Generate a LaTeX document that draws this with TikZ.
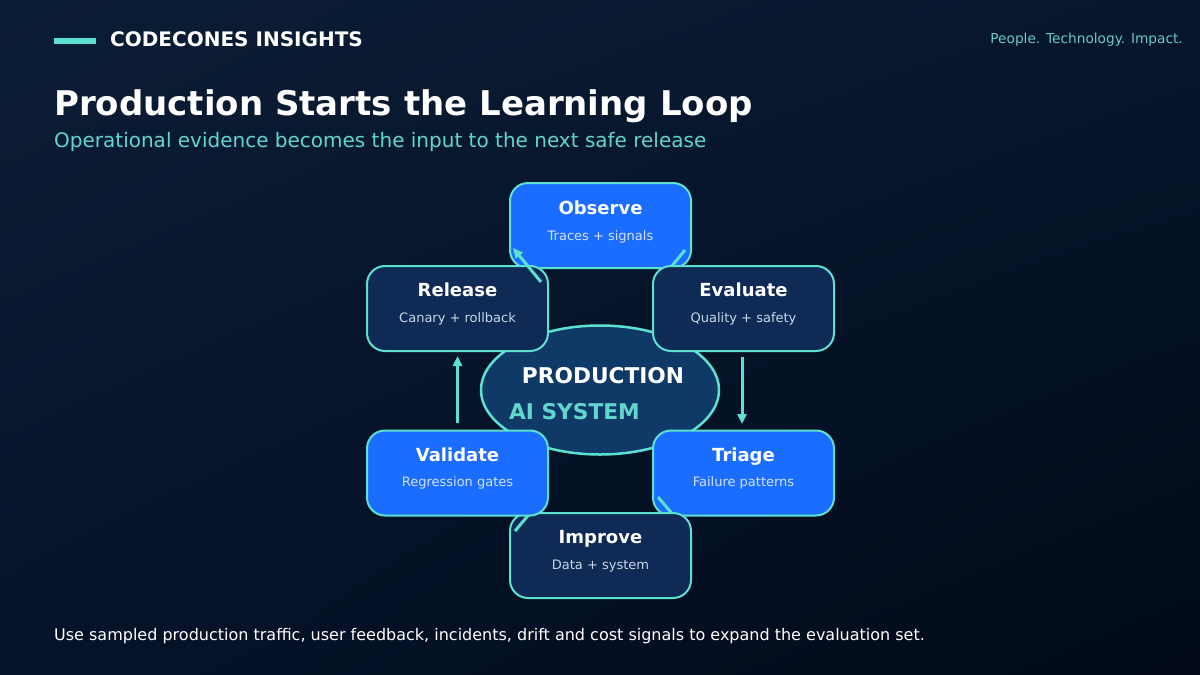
\documentclass[tikz,border=0pt]{standalone}
\usepackage{fontspec}
\setmainfont{DejaVu Sans}
\usetikzlibrary{arrows.meta,shapes.geometric,calc,shadings}
\definecolor{bgUL}{HTML}{0B1D35}
\definecolor{bgUR}{HTML}{06162D}
\definecolor{bgLL}{HTML}{05132A}
\definecolor{bgLR}{HTML}{020A18}
\definecolor{teal}{HTML}{5EE0D0}
\definecolor{tealtext}{HTML}{62D6CC}
\definecolor{tagtext}{HTML}{6CC8C8}
\definecolor{bluebox}{HTML}{1A6DFF}
\definecolor{darkbox}{HTML}{0F2B55}
\definecolor{ellfill}{HTML}{0F3A68}
\definecolor{subblue}{HTML}{D2E2FF}
\definecolor{subdark}{HTML}{C8D6E8}
\tikzset{
  stagebox/.style={draw=teal, line width=2pt, rounded corners=18pt, minimum width=181pt, minimum height=85pt, inner sep=0pt},
  bluestage/.style={stagebox, fill=bluebox},
  darkstage/.style={stagebox, fill=darkbox},
  stagetitle/.style={text=white, font=\fontsize{18}{20}\selectfont\bfseries, anchor=base},
  subb/.style={text=subblue, font=\fontsize{13}{15}\selectfont, anchor=base},
  subd/.style={text=subdark, font=\fontsize{13}{15}\selectfont, anchor=base},
  flow/.style={draw=teal, line width=3pt, -{Triangle[length=10pt,width=9pt]}},
}
\begin{document}
\begin{tikzpicture}[x=1pt,y=-1pt]
\useasboundingbox (0,0) rectangle (1200,675);
\shade[upper left=bgUL, upper right=bgUR, lower left=bgLL, lower right=bgLR] (0,0) rectangle (1200,675);

% header
\fill[teal] (54,38) rectangle (96,43.5);
\node[anchor=base west, text=white, font=\fontsize{20}{22}\selectfont\bfseries, inner sep=0pt] (brand) at (110,46) {CODECONES INSIGHTS};
\node[anchor=base east, text=tagtext, font=\fontsize{13.7}{16}\selectfont, inner sep=0pt] (tag) at (1183,43) {People. Technology. Impact.};
\node[anchor=base west, text=white, font=\fontsize{34}{40}\selectfont\bfseries, inner sep=0pt] (title) at (54,115) {Production Starts the Learning Loop};
\node[anchor=base west, text=tealtext, font=\fontsize{20}{24}\selectfont, inner sep=0pt] (subtitle) at (54,147) {Operational evidence becomes the input to the next safe release};

% central ellipse
\node[ellipse, draw=teal, line width=2.5pt, fill=ellfill, minimum width=238pt, minimum height=129pt, inner sep=0pt] (core) at (600,390) {};
\node[text=white, font=\fontsize{21.7}{26}\selectfont\bfseries, anchor=base, inner sep=0pt] (coreA) at (603,383) {PRODUCTION};
\node[text=tealtext, font=\fontsize{21.7}{26}\selectfont\bfseries, anchor=base, inner sep=0pt] (coreB) at (574.5,419) {AI SYSTEM};

% Observe
\node[bluestage] (obs) at (600.5,225.5) {};
\node[stagetitle] at ($(obs.center)+(0,-11)$) {Observe};
\node[subb] at ($(obs.center)+(0,14.5)$) {Traces + signals};
\coordinate (oeS) at (685,250);
\coordinate (oeE) at (658,283);
\draw[flow] (oeS) -- (oeE);

% Evaluate
\node[darkstage] (eva) at (743.5,308.5) {};
\node[stagetitle] at ($(eva.center)+(0,-12)$) {Evaluate};
\node[subd] at ($(eva.center)+(0,13.5)$) {Quality + safety};
\coordinate (etS) at (742,357);
\coordinate (etE) at (742,424);
\draw[flow] (etS) -- (etE);

% Triage
\node[bluestage] (tri) at (743.5,473) {};
\node[stagetitle] at ($(tri.center)+(0,-12)$) {Triage};
\node[subb] at ($(tri.center)+(0,13.5)$) {Failure patterns};
\coordinate (tiS) at (658,497);
\coordinate (tiE) at (685,529);
\draw[flow] (tiS) -- (tiE);

% Improve
\node[darkstage] (imp) at (600.5,555.5) {};
\node[stagetitle] at ($(imp.center)+(0,-12)$) {Improve};
\node[subd] at ($(imp.center)+(0,14)$) {Data + system};
\coordinate (ivS) at (515,531);
\coordinate (ivE) at (542,499);
\draw[flow] (ivS) -- (ivE);

% Validate
\node[bluestage] (val) at (457.5,473) {};
\node[stagetitle] at ($(val.center)+(0,-12)$) {Validate};
\node[subb] at ($(val.center)+(0,13.5)$) {Regression gates};
\coordinate (vrS) at (457.5,423);
\coordinate (vrE) at (457.5,356);
\draw[flow] (vrS) -- (vrE);

% Release
\node[darkstage] (rel) at (457.5,308.5) {};
\node[stagetitle] at ($(rel.center)+(0,-12)$) {Release};
\node[subd] at ($(rel.center)+(0,13.5)$) {Canary + rollback};
\coordinate (roS) at (541,282);
\coordinate (roE) at (513,248);
\draw[flow] (roS) -- (roE);

% footer
\node[anchor=base west, text=white, font=\fontsize{16}{18}\selectfont, inner sep=0pt] (foot) at (54,640) {Use sampled production traffic, user feedback, incidents, drift and cost signals to expand the evaluation set.};
\end{tikzpicture}
\end{document}
